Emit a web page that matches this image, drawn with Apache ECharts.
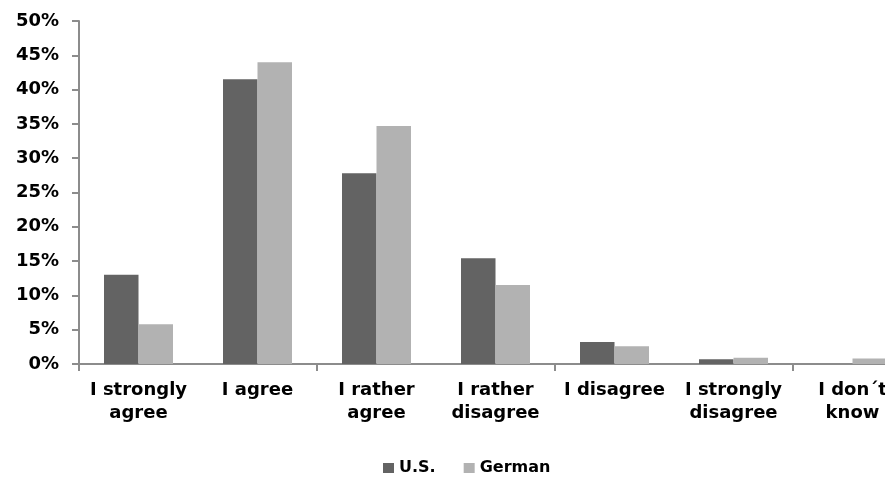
<!DOCTYPE html>
<html>
<head>
<meta charset="utf-8">
<script src="https://cdn.jsdelivr.net/npm/echarts@6/dist/echarts.min.js"></script>
<style>
  html, body { margin: 0; padding: 0; background: #ffffff; }
  #frame { width: 885px; height: 477px; overflow: hidden; position: relative; }
  /* the plot runs past the right edge, so the canvas is wider than the frame */
  #chart { width: 930px; height: 477px; position: absolute; left: 0; top: 0; }
</style>
</head>
<body>
<div id="frame"><div id="chart"></div></div>
<script>
// Survey answer categories (x axis)
var categories = [
  'I strongly\nagree',
  'I agree',
  'I rather\nagree',
  'I rather\ndisagree',
  'I disagree',
  'I strongly\ndisagree',
  'I don\u00b4t\nknow'
];

// Share of respondents per answer, in percent
var usValues     = [13.0, 41.5, 27.8, 15.4, 3.2, 0.7, 0.0];
var germanValues = [5.8, 44.0, 34.7, 11.5, 2.6, 0.9, 0.8];

var seriesNames = ['U.S.', 'German'];

var font = 'DejaVu Sans';
var axisGrey = '#8c8c8c';

var chart = echarts.init(document.getElementById('chart'), null, { renderer: 'canvas' });

chart.setOption({
  backgroundColor: '#ffffff',
  animation: false,
  grid: { left: 79, top: 21, width: 833, height: 343, containLabel: false },
  legend: {
    data: seriesNames,
    left: 383,
    top: 460,
    padding: 0,
    itemWidth: 11,
    itemHeight: 10,
    itemGap: 28,
    icon: 'rect',
    textStyle: { fontFamily: font, fontWeight: 'bold', fontSize: 16, color: '#000' }
  },
  xAxis: {
    type: 'category',
    data: categories,
    boundaryGap: true,
    axisLine: { show: true, lineStyle: { color: axisGrey, width: 2 } },
    axisTick: { show: true, interval: 1, length: 7, lineStyle: { color: axisGrey, width: 2 } },
    axisLabel: {
      interval: 0,
      margin: 15,
      color: '#000',
      fontFamily: font,
      fontWeight: 'bold',
      fontSize: 18,
      lineHeight: 23
    },
    splitLine: { show: false }
  },
  yAxis: {
    type: 'value',
    min: 0,
    max: 50,
    interval: 5,
    axisLine: { show: true, lineStyle: { color: axisGrey, width: 2 } },
    axisTick: { show: true, length: 7, lineStyle: { color: axisGrey, width: 2 } },
    axisLabel: {
      margin: 20,
      formatter: '{value}%',
      color: '#000',
      fontFamily: font,
      fontWeight: 'bold',
      fontSize: 18
    },
    splitLine: { show: false }
  },
  series: [
    {
      name: seriesNames[0],
      type: 'bar',
      data: usValues,
      barWidth: 34.5,
      barGap: '0%',
      itemStyle: { color: '#636363' }
    },
    {
      name: seriesNames[1],
      type: 'bar',
      data: germanValues,
      barWidth: 34.5,
      barGap: '0%',
      itemStyle: { color: '#b2b2b2' }
    }
  ]
});
</script>
</body>
</html>
